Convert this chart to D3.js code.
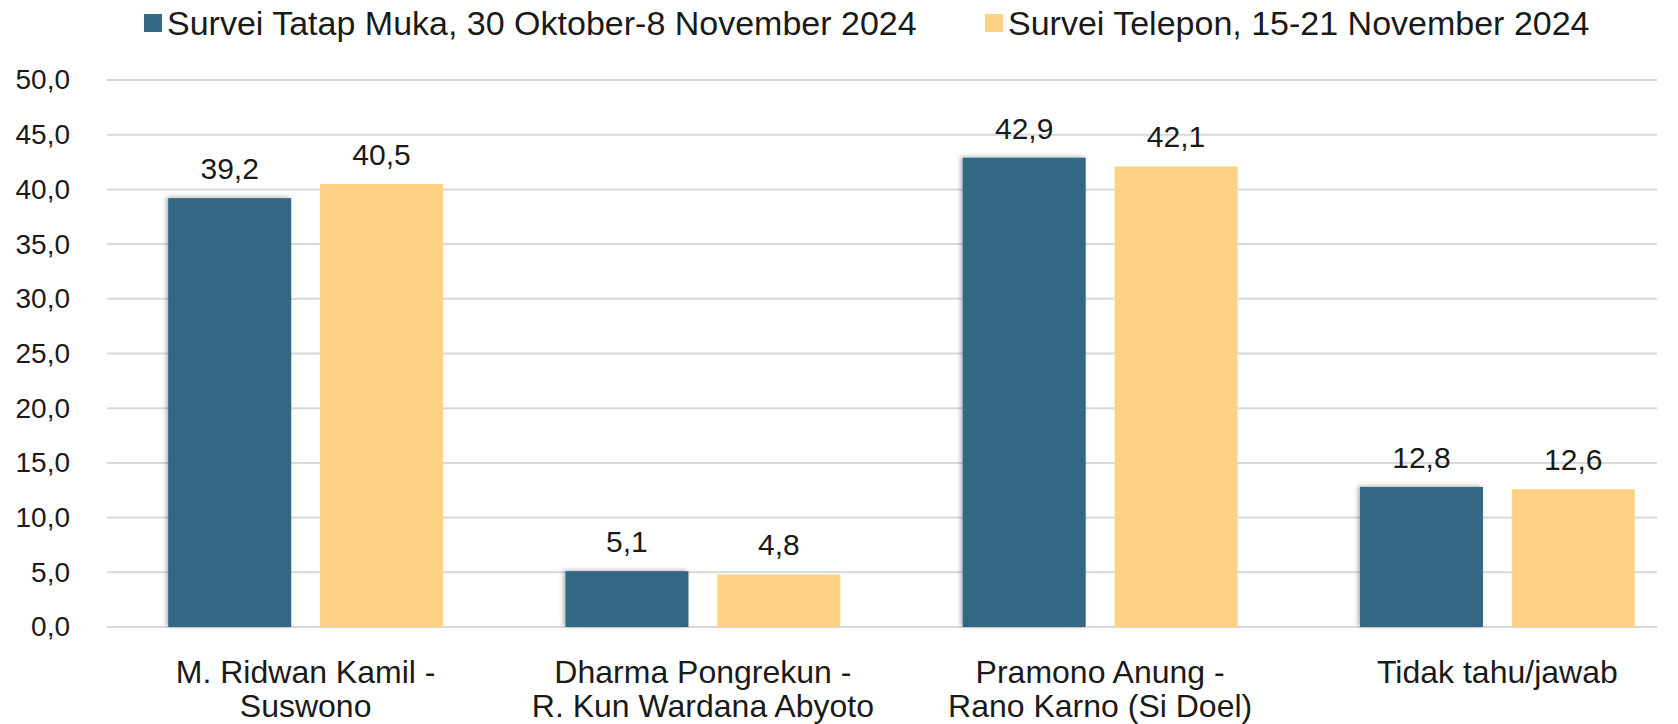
<!DOCTYPE html>
<html>
<head>
<meta charset="utf-8">
<script src="https://cdn.jsdelivr.net/npm/d3@7"></script>
<style>
  body { margin: 0; background: #fff; }
  svg { display: block; font-family: "Liberation Sans", Arial, sans-serif; }
</style>
</head>
<body>
<svg width="1678" height="724"></svg>
<script>
// data
var categories = [
  ["M. Ridwan Kamil -", "Suswono"],
  ["Dharma Pongrekun -", "R. Kun Wardana Abyoto"],
  ["Pramono Anung -", "Rano Karno (Si Doel)"],
  ["Tidak tahu/jawab"]
];
var seriesNames = [
  "Survei Tatap Muka, 30 Oktober-8 November 2024",
  "Survei Telepon, 15-21 November 2024"
];
var tatapMuka = [39.2, 5.1, 42.9, 12.8];
var telepon = [40.5, 4.8, 42.1, 12.6];
var yTicks = [0, 5, 10, 15, 20, 25, 30, 35, 40, 45, 50];
var colors = ["#336886", "#FDD285"];

var rows = categories.map((c, i) => ({
  idx: i,
  label: c,
  values: [tatapMuka[i], telepon[i]]
}));

var svg = d3.select("svg");

// drop shadow for the dark bars
var defs = svg.append("defs");
defs.append("filter")
    .attr("id", "shadow")
    .attr("x", "-10%").attr("y", "-10%")
    .attr("width", "120%").attr("height", "120%")
  .append("feDropShadow")
    .attr("dx", -2).attr("dy", -1)
    .attr("stdDeviation", 2)
    .attr("flood-color", "#000")
    .attr("flood-opacity", 0.3);

// scales
var x0 = d3.scaleBand()
    .domain(d3.range(categories.length))
    .range([107, 1696])
    .paddingInner(0.308)
    .paddingOuter(0.154);

var x1 = d3.scaleBand()
    .domain([0, 1])
    .range([0, x0.bandwidth()])
    .paddingInner(0.19);

var y = d3.scaleLinear()
    .domain([0, 50])
    .range([627, 80]);

// gridlines
svg.append("g")
    .selectAll("line")
    .data(yTicks)
    .join("line")
    .attr("x1", 107)
    .attr("x2", 1657)
    .attr("y1", d => y(d))
    .attr("y2", d => y(d))
    .attr("stroke", "#d9d9d9")
    .attr("stroke-width", 2);

// y axis labels
var yAxis = svg.append("g")
    .attr("transform", "translate(84,0)")
    .call(d3.axisLeft(y)
      .tickValues(yTicks)
      .tickSize(0)
      .tickPadding(14)
      .tickFormat(d => d3.format(".1f")(d).replace(".", ",")));
yAxis.select(".domain").remove();
yAxis.selectAll("text")
    .attr("font-size", 28)
    .attr("fill", "#1a1a1a")
    .style("font-family", "'Liberation Sans', Arial, sans-serif");

// bars
var group = svg.append("g")
    .selectAll("g")
    .data(rows)
    .join("g")
    .attr("transform", d => "translate(" + x0(d.idx) + ",0)");

group.selectAll("rect")
    .data(d => d.values.map((v, s) => ({s: s, v: v})))
    .join("rect")
    .attr("x", d => x1(d.s))
    .attr("width", x1.bandwidth())
    .attr("y", d => y(d.v))
    .attr("height", d => y(0) - y(d.v))
    .attr("fill", d => colors[d.s])
    .attr("filter", d => d.s === 0 ? "url(#shadow)" : null);

// value labels
group.selectAll("text.val")
    .data(d => d.values.map((v, s) => ({s: s, v: v})))
    .join("text")
    .attr("class", "val")
    .attr("x", d => x1(d.s) + x1.bandwidth() / 2)
    .attr("y", d => y(d.v) - 19)
    .attr("text-anchor", "middle")
    .attr("font-size", 30)
    .attr("fill", "#1a1a1a")
    .text(d => d3.format(".1f")(d.v).replace(".", ","));

// category labels
group.append("text")
    .attr("text-anchor", "middle")
    .attr("font-size", 32)
    .attr("fill", "#1a1a1a")
    .selectAll("tspan")
    .data(d => d.label)
    .join("tspan")
    .attr("x", x0.bandwidth() / 2)
    .attr("y", (d, i) => 683 + i * 34)
    .text(d => d);

// legend
var legendX = [144, 985];
var legend = svg.append("g")
    .selectAll("g")
    .data(seriesNames)
    .join("g")
    .attr("transform", (d, i) => "translate(" + legendX[i] + ",0)");

legend.append("rect")
    .attr("y", 14)
    .attr("width", 18)
    .attr("height", 18)
    .attr("fill", (d, i) => colors[i]);

legend.append("text")
    .attr("x", 23)
    .attr("y", 35)
    .attr("font-size", 34)
    .attr("fill", "#1a1a1a")
    .text(d => d);
</script>
</body>
</html>
